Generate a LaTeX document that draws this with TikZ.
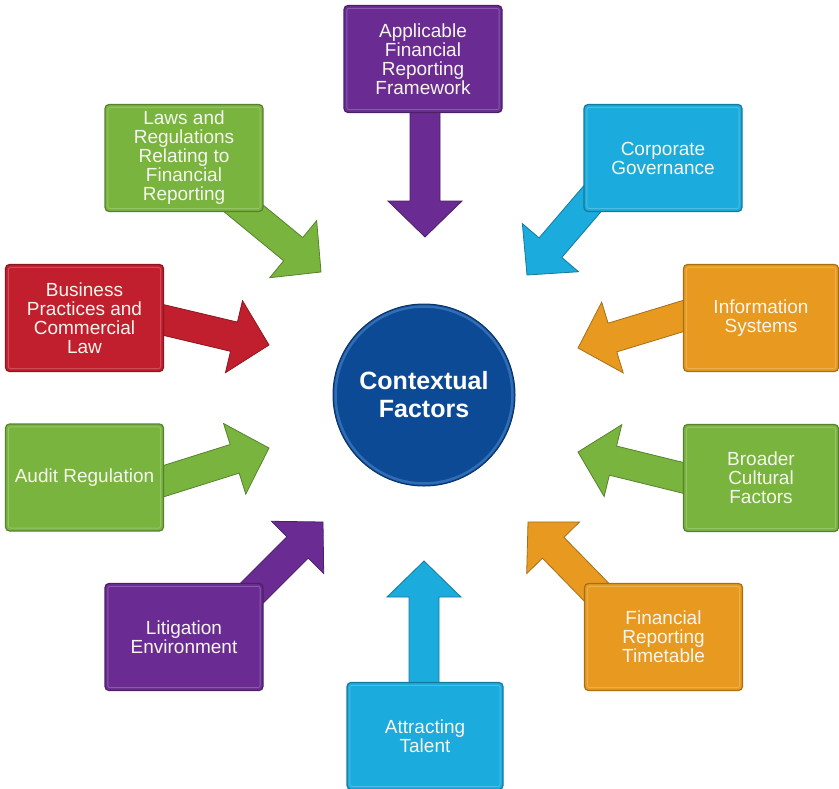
\documentclass[tikz,border=0pt]{standalone}
\usepackage{fontspec}
\setmainfont{Liberation Sans}
\usetikzlibrary{calc}
\pgfdeclarelayer{background}
\pgfsetlayers{background,main}
\definecolor{cpurple}{HTML}{6A2C92}
\definecolor{ccyan}{HTML}{1BABDC}
\definecolor{cgreen}{HTML}{79B43F}
\definecolor{corange}{HTML}{E79A1F}
\definecolor{cred}{HTML}{C11F2D}
\definecolor{cblue}{HTML}{0D4A95}
\definecolor{crim}{HTML}{3A76BE}
\definecolor{ctext}{HTML}{F6F6EE}
\tikzset{
  box/.style={draw=#1!72!black, fill=#1, rounded corners=4bp, line width=1.2bp,
    text=ctext, align=center, minimum width=158bp, minimum height=107bp,
    inner sep=0pt, font=\fontsize{19bp}{19bp}\selectfont},
  bevelline/.style={draw=#1!65!white, line width=0.9bp, opacity=0.6, rounded corners=2bp},
  arrowbody/.style={fill=#1, draw=#1!72!black, line width=0.8bp, line join=miter},
}
% inner light bevel of a box: #1 node name, #2 colour
\newcommand{\boxbevel}[2]{%
  \path[bevelline=#2] ([shift={(3.5,3.5)}]#1.north west) rectangle ([shift={(-3.5,-3.5)}]#1.south east);
}
% #1 colour, #2 tail coordinate, #3 tip coordinate
\newcommand{\blockarr}[3]{%
  \coordinate (#3b) at ($(#3)!36bp!(#2)$);
  \path[arrowbody=#1]
    ($(#2)!15bp!90:(#3)$) --
    ($(#3b)!15bp!-90:(#2)$) --
    ($(#3b)!37bp!-90:(#2)$) --
    (#3) --
    ($(#3b)!37bp!90:(#2)$) --
    ($(#3b)!15bp!90:(#2)$) --
    ($(#2)!15bp!-90:(#3)$) -- cycle;
}
\begin{document}
\begin{tikzpicture}[x=1bp, y=-1bp]
\useasboundingbox (0,0) rectangle (839,789);

% boxes
\node[box=cpurple] (fw) at (423,59) {Applicable\\Financial\\Reporting\\Framework};
\node[box=ccyan] (cg) at (663,158) {Corporate\\Governance};
\node[box=corange, minimum width=155bp] (is) at (761,318) {Information\\Systems};
\node[box=cgreen, minimum width=155bp] (bc) at (761,478) {Broader\\Cultural\\Factors};
\node[box=corange] (frt) at (663.5,637) {Financial\\Reporting\\Timetable};
\node[box=ccyan, minimum width=156bp] (at) at (425,736) {Attracting\\Talent};
\node[box=cpurple] (lit) at (184,637) {Litigation\\Environment};
\node[box=cgreen] (ar) at (84.5,477.5) {Audit Regulation};
\node[box=cred] (bp) at (84.5,318) {Business\\Practices and\\Commercial\\Law};
\node[box=cgreen] (laws) at (184,158) {Laws and\\Regulations\\Relating to\\Financial\\Reporting};

\boxbevel{fw}{cpurple}
\boxbevel{cg}{ccyan}
\boxbevel{is}{corange}
\boxbevel{bc}{cgreen}
\boxbevel{frt}{corange}
\boxbevel{at}{ccyan}
\boxbevel{lit}{cpurple}
\boxbevel{ar}{cgreen}
\boxbevel{bp}{cred}
\boxbevel{laws}{cgreen}

% centre
\node[circle, minimum size=182bp, inner sep=0pt, fill=cblue, draw=cblue!70!black,
  line width=1bp] (ctr) at (424,395) {};
\draw[crim, line width=2.5bp, opacity=0.8] (ctr.center) circle (88.5bp);
\node[text=white, align=center, font=\bfseries\fontsize{25bp}{28bp}\selectfont]
  (ctrtext) at (ctr.center) {Contextual\\Factors};

% arrow ends
\coordinate (tail-fw) at ($(fw.center)+(2,41)$);
\coordinate (tip-fw) at (425,237);
\coordinate (tail-cg) at ($(cg.center)+(-58,26)$);
\coordinate (tip-cg) at (527,275);
\coordinate (tail-is) at ($(is.center)+(-58,-8)$);
\coordinate (tip-is) at (578,348);
\coordinate (tail-bc) at ($(bc.center)+(-57,5)$);
\coordinate (tip-bc) at (578,452);
\coordinate (tail-frt) at ($(frt.center)+(-51.5,-29)$);
\coordinate (tip-frt) at (528,522);
\coordinate (tail-at) at ($(at.center)+(-1,-36)$);
\coordinate (tip-at) at (424,561);
\coordinate (tail-lit) at ($(lit.center)+(54,-30)$);
\coordinate (tip-lit) at (323,522);
\coordinate (tail-ar) at ($(ar.center)+(60.5,9.5)$);
\coordinate (tip-ar) at (269,448);
\coordinate (tail-bp) at ($(bp.center)+(58,-3)$);
\coordinate (tip-bp) at (269,345);
\coordinate (tail-laws) at ($(laws.center)+(44.5,38)$);
\coordinate (tip-laws) at (321,272);

\begin{pgfonlayer}{background}
\blockarr{cpurple}{tail-fw}{tip-fw}
\blockarr{ccyan}{tail-cg}{tip-cg}
\blockarr{corange}{tail-is}{tip-is}
\blockarr{cgreen}{tail-bc}{tip-bc}
\blockarr{corange}{tail-frt}{tip-frt}
\blockarr{ccyan}{tail-at}{tip-at}
\blockarr{cpurple}{tail-lit}{tip-lit}
\blockarr{cgreen}{tail-ar}{tip-ar}
\blockarr{cred}{tail-bp}{tip-bp}
\blockarr{cgreen}{tail-laws}{tip-laws}
\end{pgfonlayer}
\end{tikzpicture}
\end{document}
